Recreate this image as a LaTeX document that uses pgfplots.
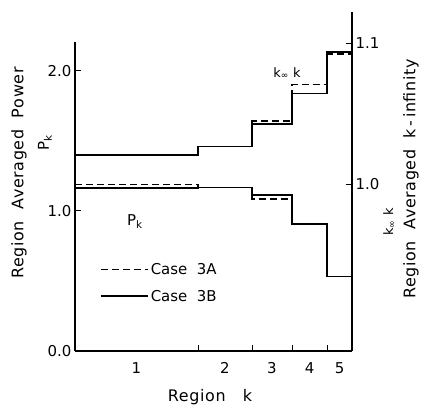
\documentclass[border=0pt]{standalone}
\usepackage{fontspec}
\setmainfont{DejaVu Sans}
\newfontfamily\spaced{DejaVu Sans}[LetterSpace=4]
\usepackage{pgfplots}
\pgfplotsset{compat=1.18}
\newcommand\lbl{\fontsize{15}{17}\selectfont}
\newcommand\biglbl{\spaced\fontsize{16}{18}\selectfont}
\newcommand\sml{\fontsize{13}{15}\selectfont}
\begin{document}
\begin{tikzpicture}[x=1bp,y=1bp]
\useasboundingbox (0,0) rectangle (426,408);
\begin{axis}[
  at={(75bp,57bp)}, anchor=south west, scale only axis,
  width=277bp, height=309bp,
  xmin=0, xmax=277, ymin=0, ymax=2.207,
  axis x line*=bottom, axis y line*=left,
  axis line style={line width=1.2pt, -},
  tick align=inside, major tick length=6bp,
  tick style={line width=1pt, black},
  xtick={123,177,217,252}, xticklabels={},
  extra x ticks={61.5,150,197,234.5,264.5},
  extra x tick labels={1,2,3,4,5},
  extra x tick style={major tick length=0pt},
  xticklabel style={yshift=-8bp},
  ytick={0,1,2}, yticklabels={0.0,1.0,2.0},
  /pgf/number format/assume math mode=true,
  tick label style={font=\lbl},
  clip=false,
  legend style={draw=none, fill=none, at={(axis cs:22,0.486)}, anchor=west, font=\lbl, row sep=10bp},
  legend cell align=left,
  legend image code/.code={\draw[#1] (0bp,0bp) -- (41bp,0bp); \path (0bp,0bp) -- (47bp,0bp);},
]
\addplot[const plot mark left, black, line width=1.3pt, dash pattern=on 7bp off 4bp]
  coordinates {(0,1.188) (123,1.170) (177,1.086) (217,0.907) (252,0.531) (277,0.531)};
\addlegendentry{Case\ \ 3A}
\addplot[const plot mark left, black, line width=1.6pt]
  coordinates {(0,1.163) (123,1.167) (177,1.114) (217,0.907) (252,0.531) (277,0.531)};
\addlegendentry{Case\ \ 3B}
\end{axis}
\begin{axis}[
  at={(75bp,57bp)}, anchor=south west, scale only axis,
  width=277bp, height=339bp,
  xmin=0, xmax=277, ymin=0.8816, ymax=1.122,
  axis x line=none, axis y line*=right,
  axis line style={line width=1.2pt, -},
  tick align=inside, major tick length=6bp,
  tick style={line width=1pt, black},
  ytick={1.0,1.1}, yticklabels={1.0,1.1},
  /pgf/number format/assume math mode=true,
  tick label style={font=\lbl},
  clip=false,
]
\addplot[const plot mark left, black, line width=1.3pt, dash pattern=on 7bp off 4bp]
  coordinates {(0,1.0208) (123,1.0268) (177,1.0447) (217,1.0706) (252,1.0922) (277,1.0922)};
\addplot[const plot mark left, black, line width=1.6pt]
  coordinates {(0,1.0206) (123,1.0266) (177,1.0426) (217,1.0642) (252,1.0938) (277,1.0938)};
\end{axis}
\node[rotate=90, font=\biglbl] at (19,235) {Region\ \ Averaged\ \ Power};
\node[rotate=90, font=\lbl] at (45,265) {P\textsubscript{k}};
\node[rotate=90, font=\biglbl] at (411,229) {Region\ \ Averaged\ \ k\,-\,infinity};
\node[rotate=90, font=\sml] at (389,186) {k\textsubscript{∞} k};
\node[font=\lbl] at (135,186) {P\textsubscript{k}};
\node[font=\sml] at (287,335) {k\textsubscript{∞} k};
\node[font=\biglbl] at (210,11) {Region\ \ \ k};
\end{tikzpicture}
\end{document}
